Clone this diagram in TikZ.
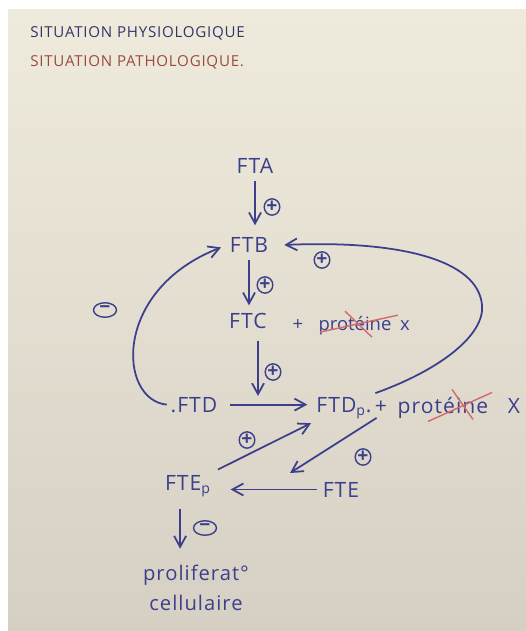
\documentclass[tikz,border=0pt]{standalone}
\usepackage{fontspec}
\setmainfont{Open Sans}
\newfontfamily\handfont[LetterSpace=5]{Open Sans}
\usetikzlibrary{arrows.meta, shapes.geometric, calc}
\definecolor{ink}{HTML}{3B3F8C}
\definecolor{navyink}{HTML}{35356A}
\definecolor{brownink}{HTML}{9C4A3C}
\definecolor{redink}{HTML}{D56A66}
\definecolor{paperTop}{HTML}{EFEBDC}
\definecolor{paperBot}{HTML}{D6D0C4}

\begin{document}
\begin{tikzpicture}[x=0.02cm, y=-0.02cm,
        lbl/.style={anchor=base, text=ink, font=\handfont\fontsize{12}{14}\selectfont, inner sep=2pt},
        word/.style={anchor=base, text=ink, font=\handfont\fontsize{12}{14}\selectfont, inner sep=1pt},
        smallword/.style={word, font=\fontsize{10.5}{12}\selectfont},
        heading/.style={anchor=base west, font=\handfont\fontsize{8.6}{11}\selectfont, inner sep=0pt},
        sgn/.style={ellipse, draw=ink, line width=0.8pt, inner sep=0pt, minimum width=0.3cm,
                    minimum height=0.29cm, text=ink, font=\bfseries\fontsize{11}{11}\selectfont},
        msgn/.style={sgn, minimum width=0.46cm},
        arr/.style={-{Straight Barb[length=2.2mm, width=2.4mm]}, ink, line width=1pt},
        strike/.style={redink, line width=0.8pt},
    ]
        % Paper
        \fill[white] (0,0) rectangle (526,631);
        \shade[top color=paperTop, bottom color=paperBot] (8,10) rectangle (526,631);
        \useasboundingbox (0,0) rectangle (526,631);

        % Headings
        \node[heading, text=navyink] (physio) at (30,38) {SITUATION PHYSIOLOGIQUE};
        \node[heading, text=brownink] (patho) at (30,67) {SITUATION PATHOLOGIQUE.};

        % Cascade
        \node[lbl] (fta) at (255,174) {FTA};
        \node[lbl] (ftb) at (249,253) {FTB};
        \node[lbl] (ftc) at (248,328) {FTC};
        \node[smallword] (plusc) at (298,330) {+};
        \node[smallword] (protc) at (355,330) {protéine};
        \node[smallword] (xc) at (405,330) {x};
        \node[lbl] (ftd) at (194,412) {.FTD};
        \node[lbl] (ftdp) at (344,412) {FTD\textsubscript{p}.};
        \node[word] (plusd) at (381,413) {+};
        \node[word] (protd) at (443,413) {protéine};
        \node[word] (xd) at (514,413) {X};
        \node[lbl] (ftep) at (188,490) {FTE\textsubscript{p}};
        \node[lbl] (fte) at (341,497) {FTE};
        \node[lbl, anchor=north, align=center, font=\handfont\fontsize{11.5}{17}\selectfont]
            (prolif) at (196,561) {proliferat°\\cellulaire};

        \coordinate (react) at (258,396);
        \coordinate (conv) at (290,473);

        % Crossed out words
        \draw[strike] ($(protc)+(-35,7)$) -- ($(protc)+(43,-10)$);
        \draw[strike] ($(protc)+(-10,-14)$) -- ($(protc)+(17,12)$);
        \draw[strike] ($(protd)+(-15,14)$) -- ($(protd)+(49,-15)$);
        \draw[strike] ($(protd)+(9,-18)$) -- ($(protd)+(30,12)$);

        % Straight arrows
        \draw[arr, shorten <=2pt, shorten >=5pt] (fta.south) -- (fta.south |- ftb.north);
        \draw[arr, shorten <=2pt, shorten >=2pt] (ftb.south) -- (ftb.south |- ftc.north);
        \draw[arr, shorten <=5pt] (react |- ftc.south) -- (react);
        \draw[arr, shorten <=5pt, shorten >=3pt] (ftd.east) -- (ftd.east -| ftdp.west);
        \draw[arr, shorten <=2pt, shorten >=1pt] (ftep.north east) -- (ftdp.south west);
        \draw[arr, shorten <=3pt] (plusd.south) -- (conv);
        \draw[arr, shorten <=1pt, shorten >=9pt] (fte.west) -- (fte.west -| ftep.east);
        \draw[arr, shorten <=5pt, shorten >=7pt] ([xshift=-4.5pt]ftep.south) -- ([xshift=-4.5pt]ftep.south |- prolif.north);

        % Feedback loops
        \draw[arr, shorten >=3pt] (ftd.west) .. controls (118,400) and (112,290) .. (ftb.west);
        \draw[arr, shorten >=7pt] (ftdp.north east) .. controls (440,370) and (485,335) .. (482,305)
            .. controls (478,260) and (400,240) .. (ftb.east);

        % Signs
        \node[sgn] (sab) at (272,207) {+};
        \node[sgn] (sbc) at (265,285) {+};
        \node[sgn] (scd) at (273,372) {+};
        \node[sgn] (sloop) at (322,260) {+};
        \node[msgn] (sneg) at (105,310) {−};
        \node[sgn] (sed) at (247,440) {+};
        \node[sgn] (sde) at (363,457) {+};
        \node[msgn] (sprol) at (205,528) {−};
    \end{tikzpicture}
\end{document}
